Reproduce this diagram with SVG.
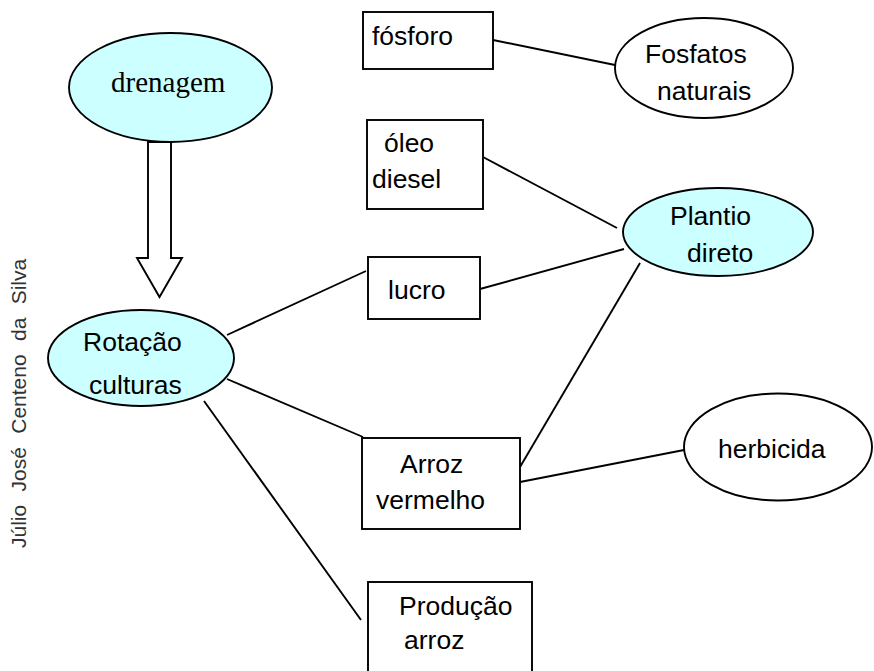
<svg xmlns="http://www.w3.org/2000/svg" width="874" height="671" viewBox="0 0 874 671">
<style>
.n{fill:#fff;stroke:#000;stroke-width:1.9}
.c{fill:#ccffff;stroke:#000;stroke-width:1.9}
.t{font-family:"Liberation Sans",Arial,sans-serif;font-size:26.5px;fill:#000}
.s{font-family:"Liberation Serif","Times New Roman",serif;font-size:29px;fill:#000}
.l{stroke:#000;stroke-width:1.9;fill:none}
</style>
<rect width="874" height="671" fill="#fff"/>
<text transform="translate(26,548) rotate(-90)" font-family="Liberation Sans, Arial, sans-serif" font-size="21" fill="#333" word-spacing="7.5">Júlio José Centeno da Silva</text>
<g id="connectors">
<line class="l" x1="493" y1="40" x2="615" y2="65"/>
<line class="l" x1="483" y1="157" x2="617" y2="228"/>
<line class="l" x1="480" y1="289" x2="624" y2="249"/>
<line class="l" x1="227" y1="335" x2="366" y2="271"/>
<line class="l" x1="227" y1="379" x2="363" y2="437"/>
<line class="l" x1="640" y1="263" x2="520" y2="467"/>
<line class="l" x1="520" y1="482" x2="684" y2="450"/>
<line class="l" x1="204" y1="401" x2="361" y2="620"/>
<polygon class="n" points="148,142 171,142 171,258 182,258 159.5,297 137,258 148,258"/>
</g>
<g id="drenagem">
<ellipse class="c" cx="170.5" cy="87.5" rx="101.5" ry="54.5"/>
<text class="s" x="111" y="92">drenagem</text>
</g>
<g id="rotacao">
<ellipse class="c" cx="141" cy="358" rx="93" ry="48"/>
<text class="t" x="83" y="351">Rotação</text>
<text class="t" x="89" y="394">culturas</text>
</g>
<g id="fosforo">
<rect class="n" x="363" y="12" width="130" height="57"/>
<text class="t" x="372" y="45">fósforo</text>
</g>
<g id="fosfatos">
<ellipse class="n" cx="704" cy="68" rx="89" ry="50"/>
<text class="t" x="645" y="63">Fosfatos</text>
<text class="t" x="657" y="100">naturais</text>
</g>
<g id="oleo">
<rect class="n" x="367" y="120" width="116" height="89"/>
<text class="t" x="384" y="152">óleo</text>
<text class="t" x="372" y="188">diesel</text>
</g>
<g id="plantio">
<ellipse class="c" cx="718" cy="232" rx="95" ry="44"/>
<text class="t" x="670" y="225">Plantio</text>
<text class="t" x="687" y="262">direto</text>
</g>
<g id="lucro">
<rect class="n" x="368" y="257" width="112" height="62"/>
<text class="t" x="388" y="299">lucro</text>
</g>
<g id="arroz-vermelho">
<rect class="n" x="362" y="438" width="158" height="91"/>
<text class="t" x="400" y="473">Arroz</text>
<text class="t" x="376" y="509">vermelho</text>
</g>
<g id="herbicida">
<ellipse class="n" cx="778" cy="447" rx="94" ry="53.5"/>
<text class="t" x="718" y="458">herbicida</text>
</g>
<g id="producao">
<rect class="n" x="368" y="582" width="164" height="100"/>
<text class="t" x="399" y="615">Produção</text>
<text class="t" x="404" y="649">arroz</text>
</g>
</svg>
